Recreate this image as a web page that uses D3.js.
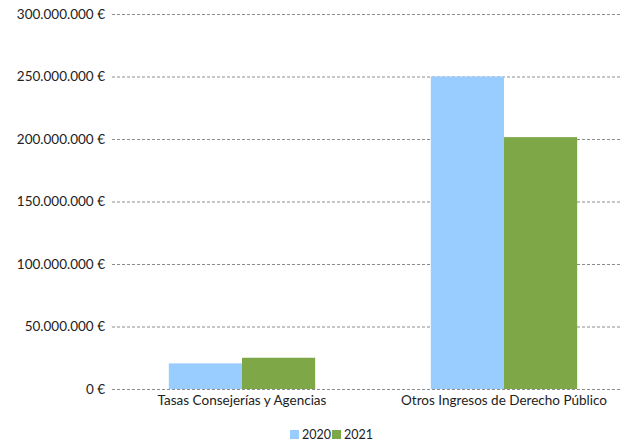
<!DOCTYPE html>
<html><head><meta charset="utf-8">
<script src="https://cdn.jsdelivr.net/npm/d3@7"></script>
<style>body{margin:0;background:#fff}svg{display:block}text{font-family:Lato,"Open Sans",sans-serif;fill:#222}</style>
</head><body><svg id="c" width="620" height="446"></svg>
<script>
const categories = ["Tasas Consejerías y Agencias", "Otros Ingresos de Derecho Público"];
const series = ["2020", "2021"];
const values2020 = [20500000, 250000000];
const values2021 = [25000000, 201500000];
const yTicks = [0, 50000000, 100000000, 150000000, 200000000, 250000000, 300000000];
const colors = ["#99CCFF", "#7EA848"];

const svg = d3.select("#c");
const y = d3.scaleLinear().domain([0, 300000000]).range([389, 14]);
const x = d3.scaleBand().domain(categories).range([111, 635]).paddingInner(0).paddingOuter(0);
const x1 = d3.scaleBand().domain(series).range([0, x.bandwidth()]).paddingInner(0).paddingOuter(0.79);

const fmt = v => (v === 0 ? "0" : d3.format(",")(v).replace(/,/g, ".")) + " €";

const yAxis = d3.axisLeft(y).tickValues(yTicks).tickSize(-(620 - 112)).tickFormat(fmt).tickPadding(7);
const ga = svg.append("g").attr("transform", "translate(112,0)").call(yAxis);
ga.select(".domain").remove();
ga.selectAll(".tick line").attr("stroke", "#8c8c8c").attr("stroke-dasharray", "3,2").attr("stroke-width", 1);
ga.selectAll(".tick text").attr("font-size", 13.5).attr("font-family", "Lato, 'Open Sans', sans-serif").attr("fill", "#222");

const data = categories.map((c, i) => ({c, vals: [values2020[i], values2021[i]]}));
const g = svg.append("g");
data.forEach(d => {
  d.vals.forEach((v, j) => {
    g.append("rect")
      .attr("x", x(d.c) + x1(series[j]))
      .attr("y", y(v))
      .attr("width", x1.bandwidth())
      .attr("height", y(0) - y(v))
      .attr("fill", colors[j]);
  });
});

const xAxis = d3.axisBottom(x).tickSize(0).tickPadding(6);
const gx = svg.append("g").attr("transform", "translate(0,389)").call(xAxis);
gx.select(".domain").remove();
gx.selectAll(".tick text").attr("font-size", 13.5).attr("font-family", "Lato, 'Open Sans', sans-serif").attr("fill", "#222");

const lg = svg.append("g").attr("transform", "translate(290,435)");
series.forEach((s, j) => {
  const gg = lg.append("g").attr("transform", `translate(${j * 42},0)`);
  gg.append("rect").attr("x", 0).attr("y", -5).attr("width", 9).attr("height", 9).attr("fill", colors[j]);
  gg.append("text").attr("x", 12).attr("y", 0).attr("dy", "0.35em").attr("font-size", 12.5).text(s);
});
</script></body></html>
